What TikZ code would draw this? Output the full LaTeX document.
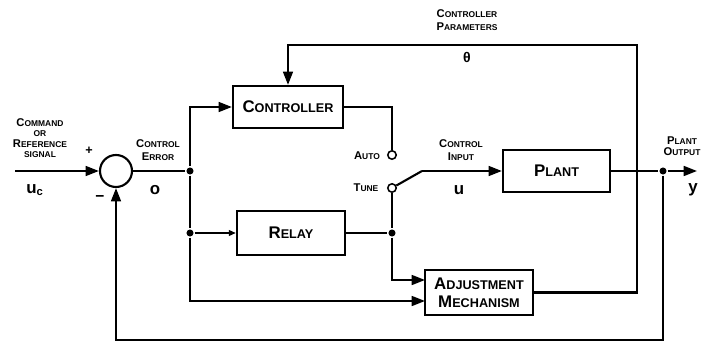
\documentclass[tikz,border=0pt]{standalone}
\usepackage{fontspec}
\setmainfont{Liberation Sans}
\usetikzlibrary{arrows.meta,positioning}

\newcommand{\boxcaps}[2]{{\fontsize{12}{14}\selectfont #1}{\fontsize{9}{14}\selectfont #2}}
\newcommand{\tagcaps}[2]{{\fontsize{8}{9}\selectfont #1}{\fontsize{6}{9}\selectfont #2}}

\begin{document}
\begin{tikzpicture}[x=0.025cm, y=-0.025cm, line width=1.5pt,
    blk/.style={draw, rectangle, inner sep=0pt, font=\bfseries, align=center},
    tag/.style={inner sep=0pt, align=center, font=\bfseries\fontsize{6}{9.5}\selectfont},
    var/.style={inner sep=0pt, font=\bfseries\fontsize{12}{12}\selectfont},
    sig/.style={-{Triangle[length=9.5pt,width=7pt]}},
    junc/.style={circle, fill, inner sep=0pt, minimum size=5pt},
    pin/.style={circle, draw, line width=1.1pt, fill=white, inner sep=0pt, minimum size=6pt}]

\useasboundingbox (0,0) rectangle (707,346);

% ======================================================
% blocchi
% ======================================================
\node[circle, draw, minimum size=0.8cm, inner sep=0pt] (sum) at (116,171) {};

\node[blk,
    minimum width = 2.75cm,
    minimum height = 1.05cm] (ctrl) at (288,107) {\boxcaps{C}{ONTROLLER}};
\node[blk,
    minimum width = 2.7cm,
    minimum height = 1.1cm] (relay) at (291,233) {\boxcaps{R}{ELAY}};
\node[blk,
    minimum width = 2.675cm,
    minimum height = 1.05cm] (plant) at (556.5,171) {\boxcaps{P}{LANT}};
\node[blk,
    minimum width = 2.7cm,
    minimum height = 1.125cm] (adj) at (479,292.5)
    {\boxcaps{A}{DJUSTMENT}\\[1pt]\boxcaps{M}{ECHANISM}};

% switch
\node[pin] (auto) at (392,155) {};
\node[pin] (tune) at (392,188) {};

% nodi
\node[junc] (ej) at (190,171) {};
\node[junc] (rj) at (190,233) {};
\node[junc] (tj) at (392,233) {};
\node[junc] (yj) at (663,171) {};

\coordinate (uin)  at (15,171);
\coordinate (sw)   at (422,171);
\coordinate (yout) at (697,171);
\coordinate (adjhi) at (425,280);
\coordinate (adjlo) at (425,301);
\coordinate (pk)   at (637,45);
\coordinate (fb)   at (663,340);

% ======================================================
% collegamenti
% ======================================================
\draw[sig] (uin) -- (sum.west);
\draw (sum.east) -- (ej);
\draw[sig] (ej) |- (ctrl.west);
\draw (ej) -- (rj);
\draw[-{Triangle[length=5pt,width=4pt]}] (rj) -- (relay.west);
\draw[sig] (rj) |- (adjlo);

\draw (ctrl.east) -| (auto.north);
\draw (relay.east) -- (tj);
\draw (tune.south) -- (tj);
\draw[sig] (tj) |- (adjhi);
\draw (tune) -- (sw);
\draw[sig] (sw) -- (plant.west);

\draw (plant.east) -- (yj);
\draw[sig] (yj) -- (yout);
\draw[sig] (yj) -- (fb) -| (sum.south);
\draw[sig] (adj.east) -| (pk) -| (ctrl.north);

% ======================================================
% etichette
% ======================================================
\node[tag, font=\bfseries\fontsize{6}{7.5}\selectfont] (cmd) at (40,138)
    {\tagcaps{C}{OMMAND}\\\tagcaps{}{OR}\\\tagcaps{R}{EFERENCE}\\\tagcaps{}{SIGNAL}};
\node[var] (uc) at (35,190) {u\textsubscript{c}};
\node[inner sep=0pt, font=\bfseries\fontsize{9}{9}\selectfont] (plus) at (89,151) {+};
\node[inner sep=0pt, font=\bfseries\fontsize{11}{11}\selectfont] (minus) at (100,199) {−};

\node[tag] (err) at (158,150) {\tagcaps{C}{ONTROL}\\\tagcaps{E}{RROR}};
\node[var] (e) at (155,190) {o};

\node[tag] (par) at (467,20) {\tagcaps{C}{ONTROLLER}\\\tagcaps{P}{ARAMETERS}};
\node[var, font=\bfseries\fontsize{10}{10}\selectfont] (theta) at (467,57) {θ};

\node[tag] (autolbl) at (367,156) {\tagcaps{A}{UTO}};
\node[tag] (tunelbl) at (366,188) {\tagcaps{T}{UNE}};

\node[tag] (inp) at (461,150) {\tagcaps{C}{ONTROL}\\\tagcaps{I}{NPUT}};
\node[var] (u) at (459,190) {u};

\node[tag, font=\bfseries\fontsize{6}{8}\selectfont] (out) at (682,146) {\tagcaps{P}{LANT}\\\tagcaps{O}{UTPUT}};
\node[var] (y) at (693,190) {y};

\end{tikzpicture}
\end{document}
